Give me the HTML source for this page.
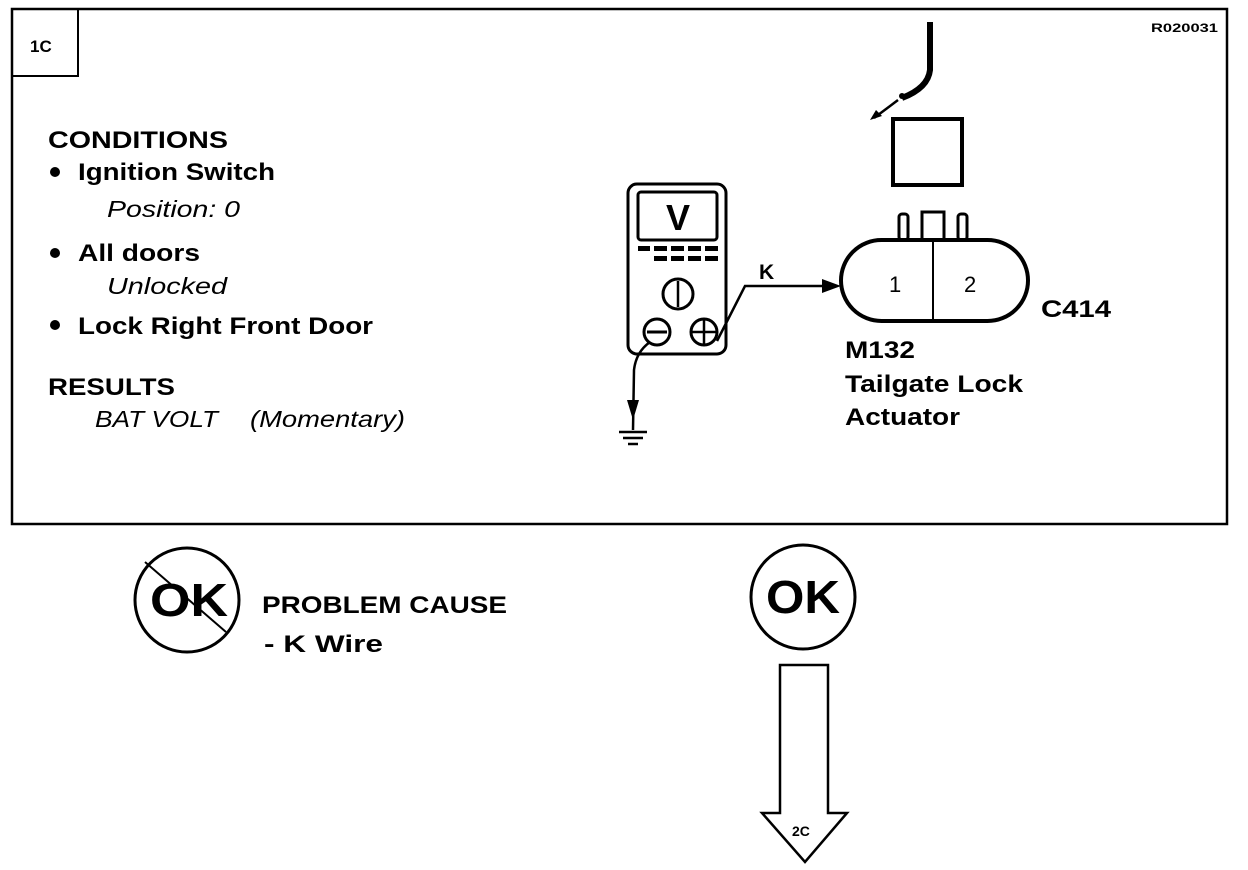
<!DOCTYPE html>
<html><head><meta charset="utf-8"><style>
html,body{margin:0;padding:0;background:#fff}
svg{display:block}
text{font-family:"Liberation Sans",Arial,sans-serif;fill:#000}
.b{font-weight:bold;font-size:24px}
.i{font-style:italic;font-size:23px}
</style></head><body>
<svg width="1248" height="870" viewBox="0 0 1248 870">
<g fill="none" stroke="#000">
<rect x="12" y="9" width="1215" height="515" stroke-width="2.5"/>
<rect x="12" y="9" width="66" height="67" stroke-width="2"/>
<rect x="628" y="184" width="98" height="170" rx="9" stroke-width="3"/>
<rect x="638" y="192" width="79" height="48" rx="3" stroke-width="3"/>
<circle cx="678" cy="294" r="15" stroke-width="3"/>
<line x1="678" y1="281" x2="678" y2="307" stroke-width="2.5"/>
<circle cx="657" cy="332" r="13" stroke-width="3"/>
<line x1="647" y1="332" x2="667" y2="332" stroke-width="3"/>
<circle cx="704" cy="332" r="13" stroke-width="3"/>
<line x1="691" y1="332" x2="717" y2="332" stroke-width="2.5"/>
<line x1="704" y1="319" x2="704" y2="345" stroke-width="2.5"/>
<polyline points="717,341 745,286 826,286" stroke-width="2.5"/>
<path d="M650,342 Q636,352 634,370 L633,430" stroke-width="2.5"/>
<line x1="619" y1="432" x2="647" y2="432" stroke-width="2.5"/>
<line x1="623" y1="438" x2="643" y2="438" stroke-width="2.5"/>
<line x1="628" y1="444" x2="638" y2="444" stroke-width="2.5"/>
<rect x="841" y="240" width="187" height="81" rx="40.5" stroke-width="4"/>
<line x1="933" y1="240" x2="933" y2="321" stroke-width="2"/>
<rect x="899" y="214" width="9" height="26" rx="3" stroke-width="3"/>
<rect x="922" y="212" width="22" height="28" stroke-width="3"/>
<rect x="958" y="214" width="9" height="26" rx="3" stroke-width="3"/>
<rect x="893" y="119" width="69" height="66" stroke-width="4"/>
<path d="M930,22 L930,70 Q928,88 902,98" stroke-width="6"/>
<line x1="874" y1="118" x2="898" y2="100" stroke-width="2.5"/>
<circle cx="187" cy="600" r="52" stroke-width="3"/>
<line x1="145" y1="562" x2="226" y2="632" stroke-width="2"/>
<circle cx="803" cy="597" r="52" stroke-width="3"/>
<path d="M780,665 L828,665 L828,813 L847,813 L805,862 L762,813 L780,813 Z" stroke-width="2.5"/>
</g>
<g fill="#000">
<rect x="638" y="246" width="12" height="5"/><rect x="654" y="246" width="13" height="5"/><rect x="671" y="246" width="13" height="5"/><rect x="688" y="246" width="13" height="5"/><rect x="705" y="246" width="13" height="5"/>
<rect x="654" y="256" width="13" height="5"/><rect x="671" y="256" width="13" height="5"/><rect x="688" y="256" width="13" height="5"/><rect x="705" y="256" width="13" height="5"/>
<polygon points="822,279 841,286 822,293"/>
<polygon points="627,400 639,400 633,420"/>
<polygon points="870,120 876,110 882,116"/>
<circle cx="902" cy="96" r="3"/>
<circle cx="55" cy="172" r="5"/><circle cx="55" cy="253" r="5"/><circle cx="55" cy="325" r="5"/>
</g>
<text x="1151" y="32" style="font-size:12px;font-weight:bold" textLength="67" lengthAdjust="spacingAndGlyphs">R020031</text>
<text x="30" y="52" style="font-size:17px;font-weight:bold">1C</text>
<text x="678" y="230" text-anchor="middle" style="font-size:36px;font-weight:bold">V</text>
<text x="759" y="279" style="font-size:21px;font-weight:bold">K</text>
<text x="889" y="292" style="font-size:22px">1</text>
<text x="964" y="292" style="font-size:22px">2</text>
<text class="b" x="1041" y="317" textLength="70" lengthAdjust="spacingAndGlyphs">C414</text>
<text class="b" x="845" y="358" textLength="70" lengthAdjust="spacingAndGlyphs">M132</text>
<text class="b" x="845" y="392" textLength="178" lengthAdjust="spacingAndGlyphs">Tailgate Lock</text>
<text class="b" x="845" y="425" textLength="115" lengthAdjust="spacingAndGlyphs">Actuator</text>
<text class="b" x="48" y="148" textLength="180" lengthAdjust="spacingAndGlyphs">CONDITIONS</text>
<text class="b" x="78" y="180" textLength="197" lengthAdjust="spacingAndGlyphs">Ignition Switch</text>
<text class="i" x="107" y="217" textLength="133" lengthAdjust="spacingAndGlyphs">Position: 0</text>
<text class="b" x="78" y="261" textLength="122" lengthAdjust="spacingAndGlyphs">All doors</text>
<text class="i" x="107" y="294" textLength="120" lengthAdjust="spacingAndGlyphs">Unlocked</text>
<text class="b" x="78" y="334" textLength="295" lengthAdjust="spacingAndGlyphs">Lock Right Front Door</text>
<text class="b" x="48" y="395" textLength="127" lengthAdjust="spacingAndGlyphs">RESULTS</text>
<text class="i" x="95" y="427" textLength="123" lengthAdjust="spacingAndGlyphs">BAT VOLT</text>
<text class="i" x="250" y="427" textLength="155" lengthAdjust="spacingAndGlyphs">(Momentary)</text>
<text x="150" y="616" style="font-size:46px;font-weight:bold" textLength="78" lengthAdjust="spacingAndGlyphs">OK</text>
<text x="766" y="613" style="font-size:46px;font-weight:bold" textLength="74" lengthAdjust="spacingAndGlyphs">OK</text>
<text class="b" x="262" y="613" textLength="245" lengthAdjust="spacingAndGlyphs">PROBLEM CAUSE</text>
<text class="b" x="264" y="652" textLength="119" lengthAdjust="spacingAndGlyphs">-  K  Wire</text>
<text x="792" y="836" style="font-size:14px;font-weight:bold">2C</text>
</svg>
</body></html>
